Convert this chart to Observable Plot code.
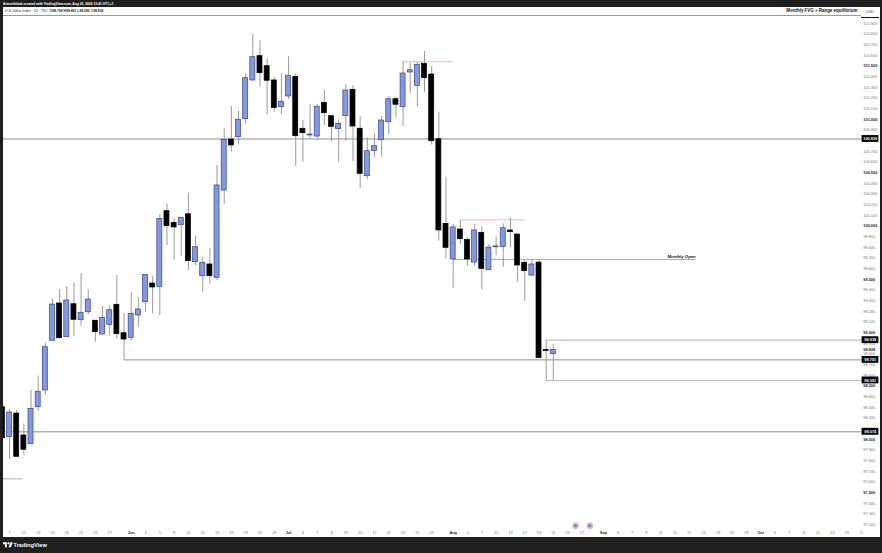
<!DOCTYPE html>
<html><head><meta charset="utf-8">
<script src="https://cdn.jsdelivr.net/npm/d3@7"></script>
<script src="https://cdn.jsdelivr.net/npm/@observablehq/plot@0.6"></script>
<style>
html,body{margin:0;padding:0;background:#1e1e1e;overflow:hidden}
#wrap{position:relative;width:882px;height:553px;background:#1e1e1e;font-family:"Liberation Sans",Arial,sans-serif;overflow:hidden}
#top{position:absolute;left:3px;top:1.5px;color:#fff;font-size:3.3px;line-height:5px;white-space:nowrap;font-weight:bold}
#chart{position:absolute;left:3px;top:7px;width:877px;height:530px;background:#fff}
#legend{position:absolute;left:3px;top:7px;width:858px;height:8px;border-bottom:.8px solid #999;box-sizing:content-box}
#sym{position:absolute;left:2px;top:2.2px;font-size:3.4px;line-height:5px;color:#222;white-space:nowrap}
#ttl{position:absolute;right:3.5px;top:1.2px;font-size:4.45px;line-height:6px;font-weight:bold;color:#111;white-space:nowrap}
#usd{position:absolute;left:861px;top:7px;width:17.5px;height:9.8px;border-bottom:1px solid #111;color:#555;font-size:4px;line-height:10px;text-align:center}
#foot{position:absolute;left:3px;top:540px;height:10px;display:flex;align-items:center;color:#fff;font-size:5.7px;font-weight:bold}
#foot svg{width:10px;height:8px;margin-right:.5px}
</style></head><body>
<div id="wrap">
  <div id="top">ArtemGabak created with TradingView.com, Aug 23, 2026 12:41 UTC+1</div>
  <div id="chart"></div>
  <div id="legend"><div id="sym">U.S. Dollar Index · 1D · TVC&nbsp; <b>O98.798 H98.891 L98.582 C98.839</b></div><div id="ttl">Monthly FVG + Range equilibrium</div></div>
  <div id="usd">USD</div>
  <div id="foot"><svg viewBox="0 0 36 28"><path fill="#fff" d="M14 22H7V11H0V4h14v18zM28 22h-8l7.5-18h8L28 22z"/><circle fill="#fff" cx="20" cy="8" r="4"/></svg>TradingView</div>
</div>
<script>
const opens=[98.301,98.020,98.242,98.036,97.954,98.301,98.458,98.924,99.274,98.958,99.267,99.117,99.192,99.112,98.983,99.074,99.262,98.995,98.952,99.161,99.286,99.461,99.430,100.140,100.031,100.008,100.111,99.661,99.530,99.640,99.515,100.334,100.812,100.834,101.003,101.366,101.594,101.500,101.366,101.115,101.216,101.400,100.913,100.850,100.840,101.156,101.031,100.909,101.031,101.278,100.913,100.468,100.706,100.806,100.974,101.190,101.115,101.441,101.316,101.522,101.422,100.815,100.021,99.687,99.968,99.871,99.658,99.937,99.586,99.801,99.806,99.959,99.921,99.656,99.536,99.658,98.838,98.798];
const highs=[98.301,98.277,98.270,98.145,98.458,98.596,98.901,99.318,99.405,99.433,99.468,99.555,99.405,99.112,99.246,99.249,99.536,99.183,99.380,99.327,99.543,99.527,100.106,100.209,100.074,100.078,100.308,99.905,99.708,99.787,100.568,100.913,101.122,101.075,101.428,101.797,101.741,101.569,101.391,101.428,101.591,101.428,100.990,101.140,101.140,101.272,101.031,100.997,101.328,101.319,101.028,100.828,100.866,101.028,101.216,101.209,101.544,101.525,101.537,101.638,101.497,101.068,100.459,100.015,100.052,99.893,100.015,99.993,99.827,99.896,100.021,100.078,99.921,99.677,99.684,99.684,98.930,98.891];
const lows=[98.010,97.811,97.836,97.848,97.954,98.261,98.411,98.924,98.948,98.958,98.964,99.061,99.171,98.911,98.983,98.967,98.939,98.746,98.920,99.046,99.192,99.177,99.161,99.818,99.680,99.715,99.583,99.630,99.380,99.455,99.490,100.205,100.693,100.762,100.950,101.359,101.303,101.044,101.068,101.047,101.187,100.559,100.599,100.819,100.803,100.943,100.787,100.599,100.796,100.606,100.353,100.437,100.646,100.646,100.859,101.016,100.934,101.246,101.115,101.256,100.759,99.858,99.689,99.417,99.824,99.624,99.624,99.402,99.586,99.724,99.612,99.793,99.474,99.293,99.527,98.761,98.552,98.552];
const closes=[98.010,98.251,97.836,97.902,98.286,98.446,98.864,99.264,98.948,99.302,99.121,99.187,99.311,99.005,99.140,99.211,98.986,98.936,99.177,99.218,99.543,99.424,100.068,99.999,99.987,100.078,99.671,99.802,99.656,99.530,100.381,100.809,100.756,100.997,101.387,101.584,101.434,101.363,101.106,101.166,101.410,100.843,100.871,100.859,101.119,101.059,100.931,100.959,101.272,100.934,100.490,100.702,100.749,100.990,101.190,101.138,101.431,101.462,101.513,101.387,100.796,99.959,99.796,99.987,99.877,99.687,99.959,99.599,99.799,99.809,99.980,99.943,99.630,99.577,99.640,98.761,98.828,98.839];

const priceTicks=[101.9,101.8,101.7,101.6,101.4,101.3,101.2,101.1,100.9,100.7,100.6,100.4,100.3,100.2,100.1,99.9,99.8,99.7,99.6,99.4,99.3,99.2,99.1,98.9,98.8,98.7,98.6,98.4,98.3,98.2,98.1,97.9,97.8,97.7,97.6,97.4,97.3,97.2];
const boldPriceTicks=[101.5,101,100.5,100,99.5,99,98.838,98.5,98,97.5];

const dayTicks=[1,3,5,7,9,11,13,15,20,22,24,26,28,30,32,34,36,38,42,44,46,48,50,52,54,56,58,60,65,67,69,71,73,75,77,79,81,86,88,90,92,94,96,98,100,102,104,108,110,112,114,116,118,120];
const dayLabels=["7","11","13","15","19","21","25","27","3","5","9","11","15","17","19","23","25","29","3","7","9","13","15","17","21","23","27","29","5","7","11","13","17","19","21","25","27","3","7","9","11","15","17","21","23","25","29","6","7","9","11","15","19","2"];
const monthTicks=[18,40,63,84,106];
const monthLabels=["Jun","Jul","Aug","Sep","Oct"];

const levelPrices=[100.817,98.070,98.745,98.930,98.552,99.687,101.541,100.058,97.629];
const levelFrom=[0,0,17,76,76,63,56,64,0];
const levelTo=[120.1,120.1,120.1,120.1,120.1,97,63,73,3];
const levelColors=["#8c8c8c","#8c8c8c","#8c8c8c","#b4b4b4","#b4b4b4","#aaaaaa","#f5b5bb","#f5b5bb","#b0b0b0"];

const tagPrices=[100.817,98.930,98.745,98.552,98.070];
const tagLabels=["100.826","98.938","98.751","98.551","98.074"];

const eventIdx=[80.1,82.1];
const eventPrice=97.19;

const candles=opens.map((o,i)=>({i,o,h:highs[i],l:lows[i],c:closes[i]}));
const levels=levelPrices.map((p,k)=>({p,a:levelFrom[k],b:levelTo[k],col:levelColors[k]}));
const tags=tagPrices.map((p,k)=>({p,t:tagLabels[k]}));
const events=eventIdx.map(i=>({i,p:eventPrice}));
const BLUE="#8398e4",EDGE="#33448f";
const hw=0.35;

const chart=Plot.plot({
  width:877,height:530,marginTop:0,marginLeft:0,marginRight:19,marginBottom:10,
  style:{fontFamily:"Liberation Sans, Arial, sans-serif",background:"#fff",overflow:"hidden"},
  x:{type:"linear",domain:[0,120],range:[-1.1,857.5],axis:null},
  y:{type:"linear",domain:[102.116,97.426],range:[-7,493],axis:null},
  marks:[
    Plot.axisY({ticks:priceTicks,anchor:"right",tickSize:0,tickPadding:1.8,tickFormat:d=>d.toFixed(3),fontSize:3.9,color:"#777",label:null}),
    Plot.axisY({ticks:boldPriceTicks,anchor:"right",tickSize:0,tickPadding:1.8,tickFormat:d=>d.toFixed(3),fontSize:3.9,fontWeight:"bold",color:"#222",label:null}),
    Plot.axisX({ticks:dayTicks,anchor:"bottom",tickSize:0,tickPadding:3.7,tickFormat:d=>dayLabels[dayTicks.indexOf(d)],fontSize:3.9,color:"#777",label:null}),
    Plot.axisX({ticks:monthTicks,anchor:"bottom",tickSize:0,tickPadding:3.7,tickFormat:d=>monthLabels[monthTicks.indexOf(d)],fontSize:3.9,fontWeight:"bold",color:"#222",label:null}),
    Plot.ruleY(levels,{y:"p",x1:"a",x2:"b",stroke:"col",strokeWidth:1}),
    Plot.ruleX(candles,{x:"i",y1:"l",y2:"h",stroke:"#9a9a9a",strokeWidth:1}),
    Plot.rect(candles,{x1:d=>d.i-hw,x2:d=>d.i+hw,y1:d=>Math.min(d.o,d.c),y2:d=>Math.max(d.o,d.c),
      fill:d=>d.c>=d.o?BLUE:"#000",stroke:d=>d.c>=d.o?EDGE:"#000",strokeWidth:0.7}),
    Plot.text(["Monthly Open"],{x:()=>96.9,y:()=>99.687,text:d=>d,dy:-3.2,textAnchor:"end",fontSize:4.25,fontWeight:"bold",fontStyle:"italic",fill:"#111"}),
    Plot.rect(tags,{x1:()=>120.15,x2:()=>122.5,y1:d=>d.p-0.032,y2:d=>d.p+0.032,fill:"#000"}),
    Plot.text(tags,{x:()=>121.3,y:"p",text:"t",fontSize:3.9,fill:"#fff",fontWeight:"bold"}),
    Plot.dot(events,{x:"i",y:"p",r:3,fill:"#f6b3b8",stroke:"#ef8d95",strokeWidth:.5}),
    Plot.dot(events,{x:"i",y:"p",r:1.5,fill:"#3b8fd8"})
  ]
});
document.getElementById("chart").appendChild(chart);
</script>
</body></html>
